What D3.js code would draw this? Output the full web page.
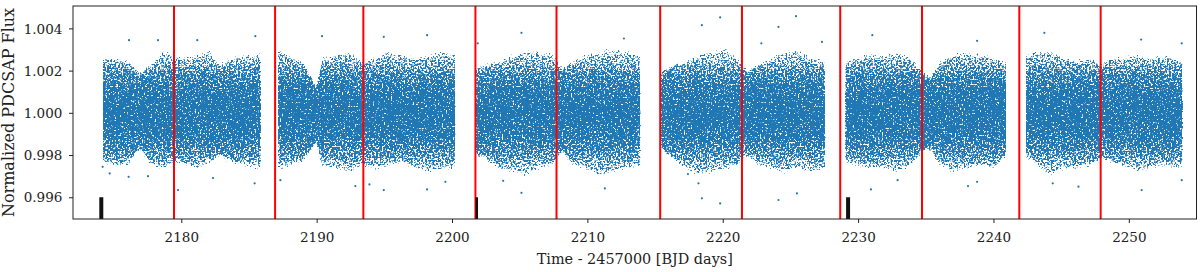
<!DOCTYPE html>
<html>
<head>
<meta charset="utf-8">
<script src="https://cdn.jsdelivr.net/npm/d3@7"></script>
<style>
  body { margin: 0; background: #ffffff; }
  svg { display: block; }
  text { font-family: "DejaVu Serif", serif; }
</style>
</head>
<body>
<div id="chart"></div>
<script>
// light curve envelope, one list per TESS orbit
const segTime = [
    [2174.21, 2175.08, 2176.06, 2176.93, 2177.78, 2178.65, 2179.51, 2180.37, 2181.23, 2182.10, 2182.84, 2183.70, 2184.69, 2185.87],
    [2187.15, 2187.94, 2188.92, 2189.66, 2189.96, 2190.40, 2191.38, 2192.37, 2193.36, 2194.34, 2195.33, 2196.31, 2197.29, 2198.29, 2199.27, 2200.25],
    [2201.78, 2202.47, 2203.46, 2204.44, 2205.42, 2206.42, 2207.40, 2208.14, 2208.88, 2209.86, 2210.85, 2211.84, 2212.82, 2213.92],
    [2215.45, 2216.25, 2217.23, 2218.21, 2219.20, 2220.18, 2221.05, 2221.79, 2222.65, 2223.64, 2224.62, 2225.60, 2226.59, 2227.58],
    [2229.05, 2229.92, 2230.90, 2231.88, 2232.87, 2233.86, 2234.72, 2235.33, 2236.07, 2237.06, 2238.05, 2239.03, 2240.02, 2240.93],
    [2242.38, 2243.19, 2244.18, 2245.17, 2246.15, 2247.14, 2247.88, 2248.62, 2249.60, 2250.58, 2251.57, 2252.56, 2253.42, 2253.98]
];
const segHigh = [
    [1.00265, 1.00265, 1.00249, 1.00194, 1.00234, 1.00297, 1.00281, 1.00265, 1.00281, 1.00297, 1.00234, 1.00265, 1.00281, 1.00281],
    [1.00312, 1.00281, 1.00249, 1.00170, 1.00123, 1.00265, 1.00281, 1.00297, 1.00249, 1.00265, 1.00297, 1.00281, 1.00265, 1.00281, 1.00297, 1.00281],
    [1.00218, 1.00234, 1.00249, 1.00281, 1.00297, 1.00297, 1.00281, 1.00218, 1.00249, 1.00281, 1.00297, 1.00312, 1.00297, 1.00281],
    [1.00202, 1.00234, 1.00249, 1.00281, 1.00297, 1.00312, 1.00265, 1.00202, 1.00240, 1.00265, 1.00297, 1.00297, 1.00265, 1.00249],
    [1.00249, 1.00265, 1.00281, 1.00281, 1.00297, 1.00265, 1.00202, 1.00170, 1.00249, 1.00281, 1.00297, 1.00281, 1.00265, 1.00249],
    [1.00281, 1.00297, 1.00297, 1.00265, 1.00249, 1.00265, 1.00234, 1.00265, 1.00265, 1.00281, 1.00265, 1.00281, 1.00265, 1.00249]
];
const segLow = [
    [0.99760, 0.99744, 0.99744, 0.99823, 0.99744, 0.99729, 0.99760, 0.99744, 0.99729, 0.99760, 0.99792, 0.99760, 0.99744, 0.99729],
    [0.99729, 0.99744, 0.99760, 0.99823, 0.99855, 0.99744, 0.99729, 0.99713, 0.99744, 0.99729, 0.99744, 0.99760, 0.99729, 0.99713, 0.99729, 0.99729],
    [0.99792, 0.99776, 0.99729, 0.99713, 0.99697, 0.99729, 0.99744, 0.99808, 0.99744, 0.99729, 0.99697, 0.99713, 0.99729, 0.99744],
    [0.99823, 0.99776, 0.99729, 0.99697, 0.99713, 0.99729, 0.99744, 0.99792, 0.99744, 0.99729, 0.99713, 0.99729, 0.99713, 0.99729],
    [0.99760, 0.99744, 0.99729, 0.99729, 0.99713, 0.99744, 0.99808, 0.99823, 0.99744, 0.99713, 0.99729, 0.99744, 0.99729, 0.99792],
    [0.99792, 0.99744, 0.99697, 0.99729, 0.99729, 0.99744, 0.99776, 0.99760, 0.99744, 0.99713, 0.99729, 0.99744, 0.99729, 0.99744]
];

// isolated points outside the main band
const outTime = [2176.14, 2178.28, 2181.18, 2185.47, 2174.19, 2174.71, 2176.11, 2179.76, 2177.54, 2182.34, 2185.42,
                 2190.40, 2194.96, 2198.16, 2187.32, 2192.86, 2193.90, 2194.96, 2198.16, 2199.51,
                 2205.13, 2205.13, 2212.70, 2211.29, 2203.78, 2201.90,
                 2219.81, 2225.41, 2218.46, 2224.12, 2227.33, 2222.85, 2219.81, 2218.46, 2224.12, 2225.48, 2218.21, 2217.43,
                 2231.05, 2238.79, 2230.95, 2238.12, 2238.79, 2232.92,
                 2243.76, 2250.91, 2253.91, 2250.95, 2244.38, 2253.91, 2246.28];
const outFlux = [1.00344, 1.00344, 1.00344, 1.00363, 0.99744, 0.99713, 0.99697, 0.99634, 0.99700, 0.99691, 0.99666,
                 1.00363, 1.00360, 1.00368, 0.99681, 0.99653, 0.99661, 0.99634, 0.99637, 0.99673,
                 1.00379, 0.99621, 1.00352, 0.99642, 0.99678, 1.00329,
                 1.00452, 1.00458, 1.00415, 1.00407, 1.00336, 1.00329, 0.99571, 0.99595, 0.99587, 0.99618, 0.99666, 0.99710,
                 1.00368, 1.00341, 0.99637, 0.99653, 0.99673, 0.99681,
                 1.00379, 1.00347, 1.00329, 0.99634, 0.99666, 0.99681, 0.99650];

// red event lines and black markers
const redTime = [2179.46, 2186.93, 2193.45, 2201.73, 2207.72, 2215.38, 2221.42, 2228.68, 2234.72, 2241.91, 2247.92];
const markTime = [2174.09, 2201.83, 2229.26];
const markTop = [0.996, 0.996, 0.996];

const xTicks = [2180, 2190, 2200, 2210, 2220, 2230, 2240, 2250];
const yTicks = [0.996, 0.998, 1.000, 1.002, 1.004];

// point density across the band, alpha feeds the speckle filter
const densFlux = [1.0032, 1.0025, 1.0018, 1.0010, 1.0000, 0.9990, 0.9982, 0.9975, 0.9968];
const densAlpha = [0.45, 0.53, 0.63, 0.71, 0.75, 0.71, 0.63, 0.53, 0.45];

const svgWidth = 1200;
const svgHeight = 272;
const margin = { top: 6, right: 3.5, bottom: 53, left: 73 };
const width = svgWidth - margin.left - margin.right;
const height = svgHeight - margin.top - margin.bottom;
const blue = "#1f77b4";

const s = d3.select("#chart").append("svg")
    .attr("width", svgWidth)
    .attr("height", svgHeight);

const xScale = d3.scaleLinear().domain([2172, 2255]).range([0, width]);
const yScale = d3.scaleLinear().domain([0.99497, 1.00506]).range([height, 0]);

const defs = s.append("defs");

const grad = defs.append("linearGradient")
    .attr("id", "dens")
    .attr("gradientUnits", "userSpaceOnUse")
    .attr("x1", 0).attr("x2", 0)
    .attr("y1", yScale(densFlux[0]))
    .attr("y2", yScale(densFlux[densFlux.length - 1]));
const g0 = yScale(densFlux[0]), g1 = yScale(densFlux[densFlux.length - 1]);
densFlux.forEach((f, i) => {
    grad.append("stop")
        .attr("offset", (yScale(f) - g0) / (g1 - g0))
        .attr("stop-color", blue)
        .attr("stop-opacity", densAlpha[i]);
});

const filter = defs.append("filter")
    .attr("id", "speckle")
    .attr("filterUnits", "userSpaceOnUse")
    .attr("x", 0).attr("y", 0)
    .attr("width", width).attr("height", height)
    .attr("color-interpolation-filters", "sRGB");
filter.append("feGaussianBlur")
    .attr("in", "SourceAlpha")
    .attr("stdDeviation", "0.5 2.5")
    .attr("result", "soft");
filter.append("feTurbulence")
    .attr("type", "fractalNoise")
    .attr("baseFrequency", 0.55)
    .attr("numOctaves", 2)
    .attr("seed", 4)
    .attr("result", "noise");
filter.append("feColorMatrix")
    .attr("in", "noise")
    .attr("type", "matrix")
    .attr("values", "0 0 0 0 0  0 0 0 0 0  0 0 0 0 0  1 0 0 0 0")
    .attr("result", "na");
filter.append("feComposite")
    .attr("in", "soft").attr("in2", "na")
    .attr("operator", "arithmetic")
    .attr("k1", 0).attr("k2", 1).attr("k3", -1).attr("k4", 0)
    .attr("result", "diff");
const ct = filter.append("feComponentTransfer")
    .attr("in", "diff").attr("result", "mask");
ct.append("feFuncA").attr("type", "linear").attr("slope", 9).attr("intercept", 0);
filter.append("feFlood").attr("flood-color", blue).attr("result", "col");
filter.append("feComposite").attr("in", "col").attr("in2", "mask").attr("operator", "in");

defs.append("clipPath").attr("id", "plotclip")
    .append("rect").attr("width", width).attr("height", height);

const svg = s.append("g")
    .attr("transform", "translate(" + margin.left + "," + margin.top + ")");

// scatter cloud
const area = d3.area()
    .x(d => xScale(d[0]))
    .y0(d => yScale(d[2]))
    .y1(d => yScale(d[1]));

const cloud = svg.append("g")
    .attr("clip-path", "url(#plotclip)")
    .append("g")
    .attr("filter", "url(#speckle)");

segTime.forEach((ts, k) => {
    const rows = ts.map((t, i) => [t, segHigh[k][i], segLow[k][i]]);
    cloud.append("path")
        .datum(rows)
        .attr("fill", "url(#dens)")
        .attr("d", area);
});

svg.append("g")
    .selectAll("circle")
    .data(outTime)
    .enter()
    .append("circle")
    .attr("cx", d => xScale(d))
    .attr("cy", (d, i) => yScale(outFlux[i]))
    .attr("r", 1.1)
    .attr("fill", blue);

// red lines
svg.append("g")
    .selectAll("line")
    .data(redTime)
    .enter()
    .append("line")
    .attr("x1", d => xScale(d))
    .attr("x2", d => xScale(d))
    .attr("y1", 0)
    .attr("y2", height)
    .attr("stroke", "#ff0000")
    .attr("stroke-width", 2);

// black markers
svg.append("g")
    .selectAll("line")
    .data(markTime)
    .enter()
    .append("line")
    .attr("x1", d => xScale(d))
    .attr("x2", d => xScale(d))
    .attr("y1", (d, i) => yScale(markTop[i]))
    .attr("y2", height)
    .attr("stroke", "#111111")
    .attr("stroke-width", (d, i) => i === 1 ? 2.5 : 4);

// axes
svg.append("g")
    .attr("transform", "translate(0," + height + ")")
    .call(d3.axisBottom(xScale).tickValues(xTicks).tickFormat(d3.format("d")).tickSize(4).tickSizeOuter(0))
    .call(g => {
        g.select(".domain").remove();
        g.selectAll("line").attr("stroke", "#222");
        g.selectAll("text")
            .attr("y", 23.3).attr("dy", null)
            .attr("fill", "#222")
            .style("font-size", "13.5px")
            .style("font-family", "'DejaVu Serif', serif");
    });

svg.append("g")
    .call(d3.axisLeft(yScale).tickValues(yTicks).tickFormat(d3.format(".3f")).tickSize(4).tickSizeOuter(0))
    .call(g => {
        g.select(".domain").remove();
        g.selectAll("line").attr("stroke", "#222");
        g.selectAll("text")
            .attr("x", -10.7).attr("dy", "0.35em")
            .attr("fill", "#222")
            .style("font-size", "13.5px")
            .style("font-family", "'DejaVu Serif', serif");
    });

svg.append("rect")
    .attr("width", width)
    .attr("height", height)
    .attr("fill", "none")
    .attr("stroke", "#222")
    .attr("stroke-width", 1);

svg.append("text")
    .attr("x", width / 2)
    .attr("y", 264 - margin.top)
    .attr("text-anchor", "middle")
    .attr("fill", "#222")
    .style("font-size", "14.4px")
    .text("Time - 2457000 [BJD days]");

svg.append("text")
    .attr("transform", "translate(" + (14 - margin.left) + "," + (height / 2) + ") rotate(-90)")
    .attr("text-anchor", "middle")
    .attr("fill", "#222")
    .style("font-size", "16px")
    .text("Normalized PDCSAP Flux");
</script>
</body>
</html>
